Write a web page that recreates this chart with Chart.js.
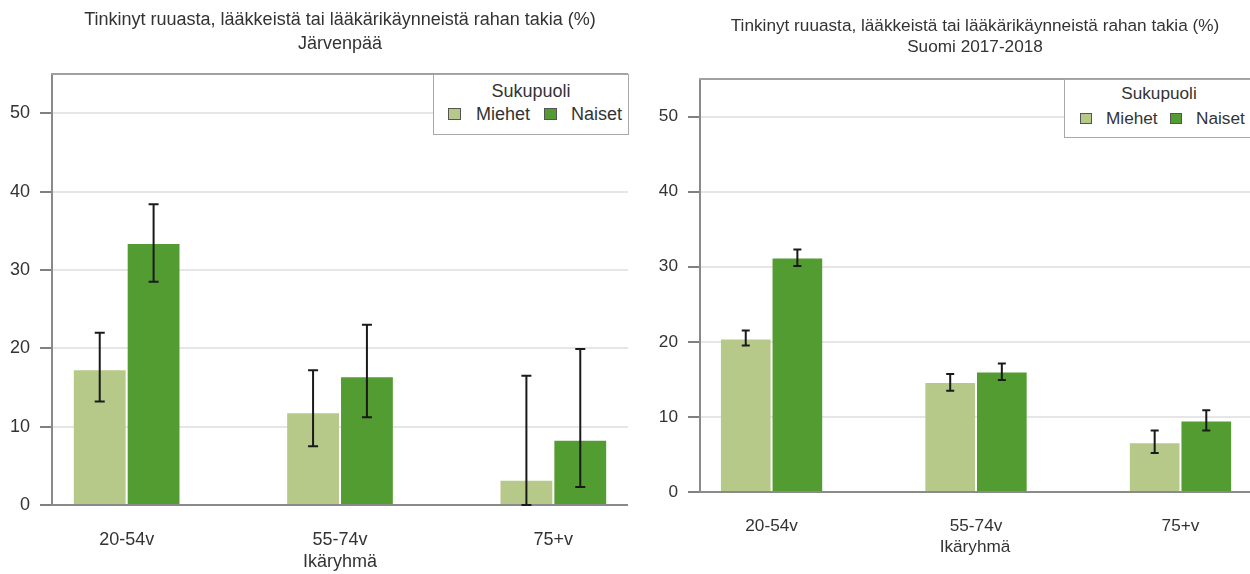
<!DOCTYPE html>
<html>
<head>
<meta charset="utf-8">
<script src="https://cdn.jsdelivr.net/npm/chart.js@4.4.1/dist/chart.umd.min.js"></script>
<style>
  html, body { margin:0; padding:0; background:#fff; }
  body { width:1250px; height:574px; overflow:hidden; position:relative; font-family:"Liberation Sans", Arial, sans-serif; color:#333; }
  canvas { position:absolute; top:0; }
  #cLeft { left:0; }
  #cRight { left:640px; }
  .legend { position:absolute; background:#fff; border:1px solid #a8a8a8; box-sizing:border-box; }
  .legend .lt, .legend .li { position:absolute; white-space:nowrap; color:#333; }
  .legend .lt { left:0; width:100%; text-align:center; }
  .legend .sw { position:absolute; box-sizing:border-box; border:1.5px solid #555; }
</style>
</head>
<body>
<canvas id="cLeft" width="628" height="574"></canvas>
<canvas id="cRight" width="610" height="574"></canvas>

<div class="legend" id="legLeft" style="left:433px;top:74px;width:196px;height:61px;font-size:18px;">
  <div class="lt" style="top:5px;line-height:22px;">Sukupuoli</div>
  <div class="sw" style="left:14px;top:33px;width:13px;height:12px;background:#b6c988;"></div>
  <div class="li" style="left:42px;top:28px;line-height:22px;">Miehet</div>
  <div class="sw" style="left:110px;top:33px;width:13px;height:12px;background:#539c31;"></div>
  <div class="li" style="left:137px;top:28px;line-height:22px;">Naiset</div>
</div>
<div class="legend" id="legRight" style="left:1064px;top:79px;width:190px;height:59px;font-size:17.2px;">
  <div class="lt" style="top:3px;line-height:21px;">Sukupuoli</div>
  <div class="sw" style="left:15px;top:33px;width:12px;height:11px;background:#b6c988;"></div>
  <div class="li" style="left:41px;top:28px;line-height:21px;">Miehet</div>
  <div class="sw" style="left:105px;top:33px;width:12px;height:11px;background:#539c31;"></div>
  <div class="li" style="left:131px;top:28px;line-height:21px;">Naiset</div>
</div>

<script>
// ---- Data ----
const categories = ['20-54v', '55-74v', '75+v'];
const seriesNames = ['Miehet', 'Naiset'];
const yTicksMax = 55;

// Järvenpää
const jarMiehet     = [17.2, 11.7, 3.1];
const jarMiehetLow  = [13.2, 7.5, 0.0];
const jarMiehetHigh = [22.0, 17.2, 16.5];
const jarNaiset     = [33.3, 16.3, 8.2];
const jarNaisetLow  = [28.5, 11.2, 2.3];
const jarNaisetHigh = [38.4, 23.0, 19.9];

// Suomi 2017-2018
const fiMiehet     = [20.3, 14.5, 6.5];
const fiMiehetLow  = [19.5, 13.5, 5.2];
const fiMiehetHigh = [21.5, 15.7, 8.2];
const fiNaiset     = [31.1, 15.9, 9.4];
const fiNaisetLow  = [30.1, 14.9, 8.2];
const fiNaisetHigh = [32.3, 17.1, 10.9];

const titleLeft  = ['Tinkinyt ruuasta, lääkkeistä tai lääkärikäynneistä rahan takia (%)', 'Järvenpää'];
const titleRight = ['Tinkinyt ruuasta, lääkkeistä tai lääkärikäynneistä rahan takia (%)', 'Suomi 2017-2018'];
const xTitle = 'Ikäryhmä';

const colMiehet = '#b6c988';
const colNaiset = '#539c31';
const FONT = '"Liberation Sans", Arial, sans-serif';

// ---- Plugins ----
const errorBarPlugin = {
  id: 'errorBars',
  afterDatasetsDraw(chart, args, opts) {
    const ctx = chart.ctx;
    const yScale = chart.scales.y;
    ctx.save();
    ctx.strokeStyle = '#1a1a1a';
    ctx.lineWidth = opts.lineWidth || 2;
    chart.data.datasets.forEach((ds, di) => {
      const meta = chart.getDatasetMeta(di);
      meta.data.forEach((bar, j) => {
        const lo = ds.errLow[j], hi = ds.errHigh[j];
        const x = bar.x;
        const yl = yScale.getPixelForValue(lo);
        const yh = yScale.getPixelForValue(hi);
        const cw = opts.cap || 5;
        ctx.beginPath();
        ctx.moveTo(x, yl); ctx.lineTo(x, yh);
        ctx.moveTo(x - cw, yl); ctx.lineTo(x + cw, yl);
        ctx.moveTo(x - cw, yh); ctx.lineTo(x + cw, yh);
        ctx.stroke();
      });
    });
    ctx.restore();
  }
};
const topFramePlugin = {
  id: 'topFrame',
  beforeDatasetsDraw(chart) {
    const a = chart.chartArea, ctx = chart.ctx;
    ctx.save();
    ctx.strokeStyle = '#a0a0a0';
    ctx.lineWidth = 2;
    ctx.beginPath();
    ctx.moveTo(a.left - 1, a.top);
    ctx.lineTo(a.right, a.top);
    ctx.stroke();
    ctx.restore();
  }
};

function makeChart(id, title, m, mLo, mHi, n, nLo, nHi, cfg) {
  const fs = cfg.fs;
  const widest = 2 * 0.556 * fs;
  return new Chart(document.getElementById(id), {
    type: 'bar',
    data: {
      datasets: [
        { label: seriesNames[0], data: m.map((v, i) => ({x: i, y: v})), errLow: mLo, errHigh: mHi,
          backgroundColor: colMiehet, borderWidth: 0 },
        { label: seriesNames[1], data: n.map((v, i) => ({x: i, y: v})), errLow: nLo, errHigh: nHi,
          backgroundColor: colNaiset, borderWidth: 0 }
      ]
    },
    options: {
      responsive: false,
      animation: false,
      devicePixelRatio: 1,
      categoryPercentage: 0.505,
      barPercentage: 0.962,
      layout: { padding: { left: cfg.padL, right: 0, top: cfg.padT, bottom: cfg.padB } },
      plugins: {
        legend: { display: false },
        tooltip: { enabled: false },
        title: {
          display: true, text: title, color: '#333',
          font: { family: FONT, size: fs, weight: 'normal', lineHeight: cfg.titleLH },
          padding: { top: 0, bottom: cfg.titlePadB }
        },
        errorBars: { lineWidth: 2, cap: cfg.cap }
      },
      scales: {
        x: {
          type: 'linear', min: -0.35, max: cfg.xMax, offset: false,
          afterBuildTicks(s) { s.ticks = categories.map((c, i) => ({ value: i })); },
          ticks: { callback: (v) => categories[v], padding: cfg.xTickPad, color: '#333', autoSkip: false, maxRotation: 0,
                   font: { family: FONT, size: fs } },
          grid: { display: false, drawTicks: false },
          border: { display: true, color: '#8a8a8a', width: 2 },
          title: { display: true, text: xTitle, color: '#333', padding: { top: cfg.xTitlePadT, bottom: 0 },
                   font: { family: FONT, size: fs } }
        },
        y: {
          min: 0, max: yTicksMax,
          afterFit(s) { s.width = 0; },
          ticks: { stepSize: 10, includeBounds: false, mirror: true, crossAlign: 'far',
                   padding: -(22 + widest), color: '#333',
                   font: { family: FONT, size: fs } },
          grid: { color: '#e6e6e6', lineWidth: 2, tickColor: '#808080', tickLength: 12, tickWidth: 2 },
          border: { display: true, color: '#8a8a8a', width: 2 }
        }
      }
    },
    plugins: [topFramePlugin, errorBarPlugin]
  });
}

makeChart('cLeft', titleLeft, jarMiehet, jarMiehetLow, jarMiehetHigh, jarNaiset, jarNaisetLow, jarNaisetHigh,
  { fs: 18, padL: 52, padT: 9, padB: 1, titleLH: 1.28, titlePadB: 19, xTickPad: 24, xTitlePadT: -23.2, xMax: 2.35, cap: 5 });
makeChart('cRight', titleRight, fiMiehet, fiMiehetLow, fiMiehetHigh, fiNaiset, fiNaisetLow, fiNaisetHigh,
  { fs: 17.2, padL: 60, padT: 16, padB: 16.7, titleLH: 1.22, titlePadB: 21, xTickPad: 23.5, xTitlePadT: -23, xMax: 2.34, cap: 4 });
</script>
</body>
</html>
